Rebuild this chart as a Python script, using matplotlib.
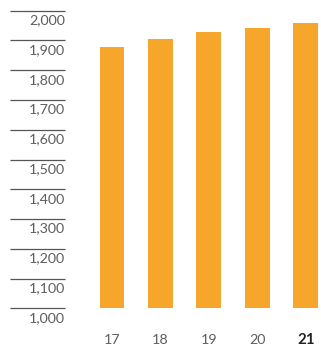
import matplotlib
matplotlib.use("Agg")
import matplotlib.pyplot as plt
import matplotlib.transforms as mtransforms

# fiscal years and values
years = ["17", "18", "19", "20", "21"]
values = [1879, 1905, 1930, 1941, 1960]
y_ticks = [1000, 1100, 1200, 1300, 1400, 1500, 1600, 1700, 1800, 1900, 2000]

W, H = 321, 350
BAR_COLOR = "#F6A62B"
LABEL_COLOR = "#5E5E5E"

plt.rcParams["font.family"] = ["Lato", "DejaVu Sans"]

fig = plt.figure(figsize=(W / 100, H / 100), dpi=100)
ax_left = 87.75 / W
ax_bottom = (H - 308.3) / H
ax_top = (H - 10.7) / H
ax = fig.add_axes([ax_left, ax_bottom, 1 - ax_left, ax_top - ax_bottom])

x = list(range(len(years)))
ax.bar(x, [v - 1000 for v in values], bottom=1000, width=0.515,
       color=BAR_COLOR, linewidth=0, zorder=2)
ax.set_xlim(-0.5, 4.31)
ax.set_ylim(1000, 2000)
ax.axis("off")

# y scale drawn as short rules with the value beneath each one
tr = mtransforms.blended_transform_factory(fig.transFigure, ax.transData)
for t in y_ticks:
    ax.plot([10 / W, 65 / W], [t, t], transform=tr, color="#555555",
            lw=0.9, clip_on=False, solid_capstyle="butt")
    ax.text(65 / W, t - 32, f"{t:,}", transform=tr, ha="right", va="center",
            fontsize=10.3, color=LABEL_COLOR, fontweight="normal")

# year labels under the bars, latest year in bold
trx = mtransforms.blended_transform_factory(ax.transData, fig.transFigure)
for i, yr in enumerate(years):
    last = i == len(years) - 1
    ax.text(i, (H - 340) / H, yr, transform=trx, ha="center", va="center",
            fontsize=10.8 if last else 10.3,
            fontweight="bold" if last else "normal",
            color="#222222" if last else LABEL_COLOR)

fig.savefig("out.png", dpi=100)
